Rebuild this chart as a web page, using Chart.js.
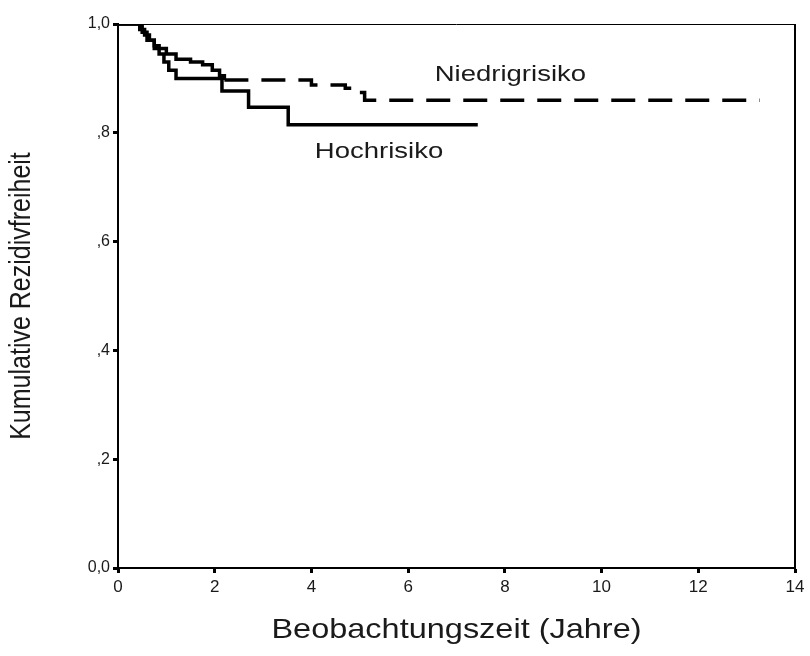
<!DOCTYPE html>
<html>
<head>
<meta charset="utf-8">
<script src="https://cdn.jsdelivr.net/npm/chart.js@4/dist/chart.umd.min.js"></script>
<style>
  html, body { margin: 0; padding: 0; background: #fff; }
  #wrap { width: 810px; height: 656px; }
</style>
</head>
<body>
<div id="wrap"><canvas id="km" width="810" height="656"></canvas></div>
<script>
// Kaplan-Meier Kurven
const niedrigZeit = [0, 0.45, 0.55, 0.65, 0.75, 0.85, 1.0, 1.2, 1.5, 1.75, 1.95, 2.1, 2.2, 4.0, 4.7, 4.9, 5.1, 13.27];
const niedrigWert = [1.0, 0.99, 0.98, 0.97, 0.96, 0.955, 0.945, 0.935, 0.93, 0.925, 0.915, 0.905, 0.897, 0.888, 0.882, 0.874, 0.86, 0.86];

const hochZeit = [0, 0.5, 0.6, 0.75, 0.85, 0.95, 1.05, 1.2, 2.15, 2.7, 3.52, 7.44];
const hochWert = [1.0, 0.985, 0.97, 0.955, 0.945, 0.93, 0.915, 0.90, 0.877, 0.847, 0.815, 0.815];

const xTicks = [0, 2, 4, 6, 8, 10, 12, 14];
const yTicks = [0, 0.2, 0.4, 0.6, 0.8, 1.0];

const kurvenNamen = ['Niedrigrisiko', 'Hochrisiko'];
// Position der Beschriftung (in Datenkoordinaten)
const labelZeit = [6.55, 4.07];
const labelWert = [0.906, 0.765];

const xTitel = 'Beobachtungszeit (Jahre)';
const yTitel = 'Kumulative Rezidivfreiheit';

const dashAb = 2.2;

function punkte(xs, ys) {
  return xs.map((x, i) => ({ x: x, y: ys[i] }));
}

function yLabel(v) {
  const s = Number(v).toFixed(1).replace('.', ',');
  return s.startsWith('0,') && s !== '0,0' ? s.slice(1) : s;
}

// gestreckter Text wie im Original
function dehnText(ctx, text, x, y, size, stretch, align) {
  ctx.save();
  ctx.font = size + 'px "Liberation Sans", Arial, sans-serif';
  ctx.fillStyle = '#1a1a1a';
  ctx.textBaseline = 'middle';
  ctx.textAlign = align;
  ctx.translate(x, y);
  ctx.scale(stretch, 1);
  ctx.fillText(text, 0, 0);
  ctx.restore();
}

const textPlugin = {
  id: 'textPlugin',
  beforeDatasetsDraw(chart) {
    const { ctx, chartArea } = chart;
    ctx.save();
    ctx.strokeStyle = '#000';
    ctx.lineWidth = 1;
    ctx.beginPath();
    ctx.moveTo(chartArea.left, chartArea.top + 0.5);
    ctx.lineTo(chartArea.right, chartArea.top + 0.5);
    ctx.stroke();
    ctx.lineWidth = 2;
    ctx.beginPath();
    ctx.moveTo(chartArea.right, chartArea.top);
    ctx.lineTo(chartArea.right, chartArea.bottom);
    ctx.stroke();
    ctx.restore();
  },
  afterDraw(chart) {
    const { ctx, chartArea, scales } = chart;
    kurvenNamen.forEach((name, i) => {
      dehnText(ctx, name, scales.x.getPixelForValue(labelZeit[i]),
        scales.y.getPixelForValue(labelWert[i]), 22, 1.25, 'left');
    });
    dehnText(ctx, xTitel, (chartArea.left + chartArea.right) / 2, 630, 28, 1.16, 'center');

    ctx.save();
    ctx.translate(22, (chartArea.top + chartArea.bottom) / 2);
    ctx.scale(1.16, 1);
    ctx.rotate(-Math.PI / 2);
    ctx.font = '25px "Liberation Sans", Arial, sans-serif';
    ctx.fillStyle = '#1a1a1a';
    ctx.textAlign = 'center';
    ctx.textBaseline = 'middle';
    ctx.fillText(yTitel, 0, 0);
    ctx.restore();
  }
};

new Chart(document.getElementById('km').getContext('2d'), {
  type: 'line',
  data: {
    datasets: [
      {
        label: kurvenNamen[0],
        data: punkte(niedrigZeit, niedrigWert),
        borderColor: '#000',
        borderWidth: 3.5,
        stepped: true,
        pointRadius: 0,
        fill: false,
        segment: {
          borderDash: ctx => ctx.p0.parsed.x >= dashAb ? [24, 13] : undefined
        }
      },
      {
        label: kurvenNamen[1],
        data: punkte(hochZeit, hochWert),
        borderColor: '#000',
        borderWidth: 3.5,
        stepped: true,
        pointRadius: 0,
        fill: false
      }
    ]
  },
  options: {
    responsive: false,
    animation: false,
    layout: { padding: { top: 24, right: 15, left: 0, bottom: 0 } },
    plugins: {
      legend: { display: false },
      tooltip: { enabled: false }
    },
    scales: {
      x: {
        type: 'linear',
        min: 0,
        max: 14,
        afterFit: s => { s.height = 88; },
        afterBuildTicks: s => { s.ticks = xTicks.map(v => ({ value: v })); },
        grid: { drawOnChartArea: false, drawTicks: true, tickLength: 5, tickWidth: 3, tickColor: '#000' },
        border: { color: '#000', width: 2 },
        ticks: {
          color: '#1a1a1a',
          padding: 4,
          maxRotation: 0,
          font: { family: '"Liberation Sans", Arial, sans-serif', size: 17 }
        }
      },
      y: {
        min: 0,
        max: 1,
        afterFit: s => { s.width = 118; },
        afterBuildTicks: s => { s.ticks = yTicks.map(v => ({ value: v })); },
        grid: { drawOnChartArea: false, drawTicks: true, tickLength: 5, tickWidth: 3, tickColor: '#000' },
        border: { color: '#000', width: 2 },
        ticks: {
          color: '#1a1a1a',
          padding: 3,
          callback: v => yLabel(v),
          font: { family: '"Liberation Sans", Arial, sans-serif', size: 16 }
        }
      }
    }
  },
  plugins: [textPlugin]
});
</script>
</body>
</html>
